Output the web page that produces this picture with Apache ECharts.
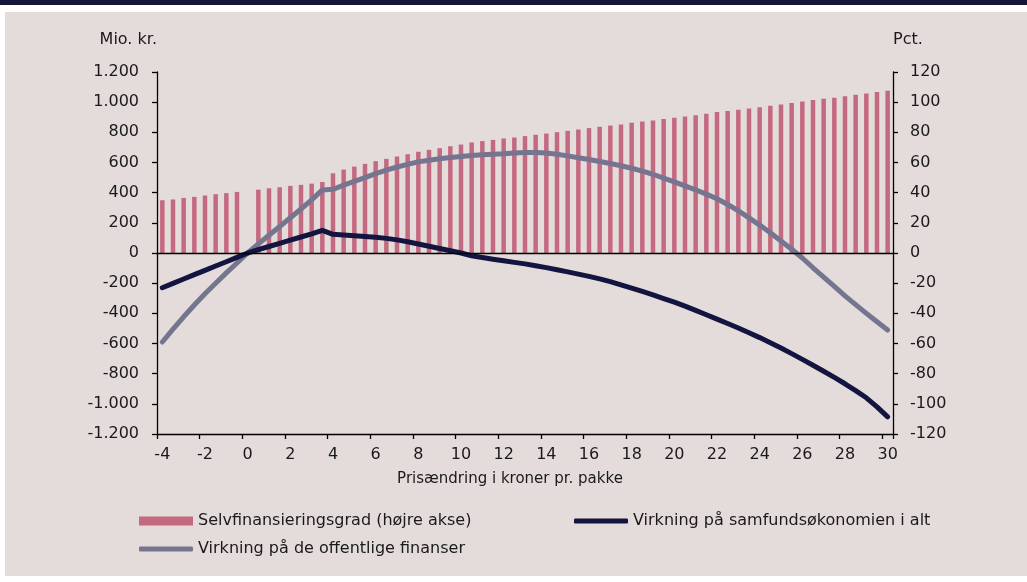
<!DOCTYPE html>
<html>
<head>
<meta charset="utf-8">
<script src="https://cdn.jsdelivr.net/npm/echarts@6/dist/echarts.min.js"></script>
<style>
  html, body { margin: 0; padding: 0; background: #ffffff; width: 1027px; height: 582px; overflow: hidden; }
  #band { position: absolute; left: 0; top: 0; width: 1027px; height: 5px; background: #141538; }
  #panel { position: absolute; left: 5px; top: 12px; width: 1022px; height: 564px; background: #E3DCDB; }
  #chart { position: absolute; left: 0; top: 0; width: 1027px; height: 582px; }
</style>
</head>
<body>
<div id="band"></div>
<div id="panel"></div>
<div id="chart"></div>
<script>
// Price change in kroner per pack (categories)
const categories = [-4,-3.5,-3,-2.5,-2,-1.5,-1,-0.5,0,0.5,1,1.5,2,2.5,3,3.5,4,4.5,5,5.5,6,6.5,7,7.5,8,8.5,9,9.5,10,10.5,11,11.5,12,12.5,13,13.5,14,14.5,15,15.5,16,16.5,17,17.5,18,18.5,19,19.5,20,20.5,21,21.5,22,22.5,23,23.5,24,24.5,25,25.5,26,26.5,27,27.5,28,28.5,29,29.5,30];

// Selvfinansieringsgrad (pct., right axis)
const selvfinansieringsgrad = [35.0,35.5,36.5,37.2,38.1,39.0,39.7,40.5,null,42.0,42.9,43.6,44.5,45.2,46.0,47.1,52.9,55.3,57.3,59.1,60.9,62.4,64.0,65.5,67.1,68.4,69.5,70.8,71.9,73.3,74.2,75.0,75.9,76.6,77.5,78.4,79.2,80.1,81.0,81.9,82.8,83.7,84.5,85.2,86.3,87.2,87.9,88.8,89.6,90.5,91.4,92.3,93.4,94.1,95.0,95.8,96.7,97.6,98.5,99.4,100.5,101.4,102.3,102.9,104.0,104.9,105.8,106.7,107.6];

// Virkning på samfundsøkonomien i alt (mio. kr.)
const samfundsokonomi = [-230,-201,-172,-143,-115,-86,-58,-29,0,22,43,64,85,106,127,150,124,120,115,110,104,97,87,75,60,45,30,15,0,-18,-30,-41,-52,-62,-72,-85,-97,-111,-125,-140,-155,-172,-190,-211,-233,-255,-278,-302,-326,-352,-380,-409,-438,-467,-497,-529,-561,-595,-630,-667,-705,-744,-784,-825,-867,-912,-960,-1020,-1086];

// Virkning på de offentlige finanser (mio. kr.)
const offentligeFinanser = [-590,-505,-423,-345,-270,-200,-132,-66,0,60,118,176,234,292,352,418,422,450,475,500,526,550,570,588,604,615,625,633,640,646,651,655,658,663,666,667,663,655,644,632,620,607,593,578,562,543,522,497,472,445,418,390,360,322,280,233,185,134,80,25,-33,-98,-160,-222,-284,-342,-400,-456,-511];

// Axis ticks
const leftTicks = { min: -1200, max: 1200, interval: 200 };
const rightTicks = { min: -120, max: 120, interval: 20 };

const names = {
  bar: 'Selvfinansieringsgrad (højre akse)',
  dark: 'Virkning på samfundsøkonomien i alt',
  grey: 'Virkning på de offentlige finanser'
};

const FONT = 'DejaVu Sans, Liberation Sans, Arial, sans-serif';
const TXT = '#1a1a1a';
const C_BAR = '#C46A80';
const C_DARK = '#141440';
const C_GREY = '#76758F';

function fmtDot(v) {
  const s = String(Math.abs(v)).replace(/\B(?=(\d{3})+(?!\d))/g, '.');
  return (v < 0 ? '-' : '') + s;
}

const chart = echarts.init(document.getElementById('chart'), null, { renderer: 'canvas' });

const legendCommon = {
  orient: 'horizontal',
  itemWidth: 54,
  textStyle: { fontFamily: FONT, fontSize: 16, color: TXT },
  itemGap: 4,
  selectedMode: false
};

chart.setOption({
  backgroundColor: 'transparent',
  animation: false,
  textStyle: { fontFamily: FONT },
  grid: { left: 157, right: 134, top: 72, bottom: 148, containLabel: false },
  legend: [
    Object.assign({}, legendCommon, {
      left: 134, top: 508, itemHeight: 9,
      data: [{ name: names.bar, icon: 'rect' }]
    }),
    Object.assign({}, legendCommon, {
      left: 569, top: 508, itemHeight: 5,
      data: [{ name: names.dark, icon: 'roundRect' }]
    }),
    Object.assign({}, legendCommon, {
      left: 134, top: 536, itemHeight: 5,
      data: [{ name: names.grey, icon: 'roundRect' }]
    })
  ],
  xAxis: {
    type: 'category',
    data: categories,
    boundaryGap: true,
    name: 'Prisændring i kroner pr. pakke',
    nameLocation: 'middle',
    nameGap: 38,
    nameTextStyle: { fontFamily: FONT, fontSize: 15, color: TXT, padding: [0, 30, 0, 0] },
    axisLine: { show: true, onZero: false, lineStyle: { color: '#000', width: 1.3 } },
    axisTick: { show: true, interval: 3, alignWithLabel: false, length: 5, inside: false, lineStyle: { color: '#000', width: 1.3 } },
    axisLabel: {
      interval: 3, margin: 13, fontFamily: FONT, fontSize: 16, color: TXT,
      formatter: v => String(v).replace('.', ',')
    },
    splitLine: { show: false }
  },
  yAxis: [
    {
      type: 'value', position: 'left',
      min: leftTicks.min, max: leftTicks.max, interval: leftTicks.interval,
      name: 'Mio. kr.', nameLocation: 'end', nameGap: 24,
      nameTextStyle: { fontFamily: FONT, fontSize: 16, color: TXT, align: 'right' },
      axisLine: { show: true, lineStyle: { color: '#000', width: 1.3 } },
      axisTick: { show: true, length: 5, lineStyle: { color: '#000', width: 1.3 } },
      axisLabel: { margin: 18, fontFamily: FONT, fontSize: 16, color: TXT, formatter: fmtDot },
      splitLine: { show: false }
    },
    {
      type: 'value', position: 'right',
      min: rightTicks.min, max: rightTicks.max, interval: rightTicks.interval,
      name: 'Pct.', nameLocation: 'end', nameGap: 24,
      nameTextStyle: { fontFamily: FONT, fontSize: 16, color: TXT, align: 'left' },
      axisLine: { show: true, lineStyle: { color: '#000', width: 1.3 } },
      axisTick: { show: true, length: 5, lineStyle: { color: '#000', width: 1.3 } },
      axisLabel: { margin: 17, fontFamily: FONT, fontSize: 16, color: TXT, formatter: fmtDot },
      splitLine: { show: false }
    }
  ],
  series: [
    {
      name: names.bar, type: 'bar', yAxisIndex: 1,
      data: selvfinansieringsgrad,
      barWidth: 4.5,
      itemStyle: { color: C_BAR },
      markLine: {
        silent: true, symbol: 'none', label: { show: false },
        lineStyle: { color: '#000', width: 1.3, type: 'solid' },
        data: [{ yAxis: 0 }]
      }
    },
    {
      name: names.dark, type: 'line', yAxisIndex: 0,
      data: samfundsokonomi,
      showSymbol: false, symbol: 'none',
      lineStyle: { color: C_DARK, width: 5, cap: 'round', join: 'round' },
      itemStyle: { color: C_DARK },
      z: 4
    },
    {
      name: names.grey, type: 'line', yAxisIndex: 0,
      data: offentligeFinanser,
      showSymbol: false, symbol: 'none',
      lineStyle: { color: C_GREY, width: 5, cap: 'round', join: 'round' },
      itemStyle: { color: C_GREY },
      z: 3
    }
  ]
});
</script>
</body>
</html>
